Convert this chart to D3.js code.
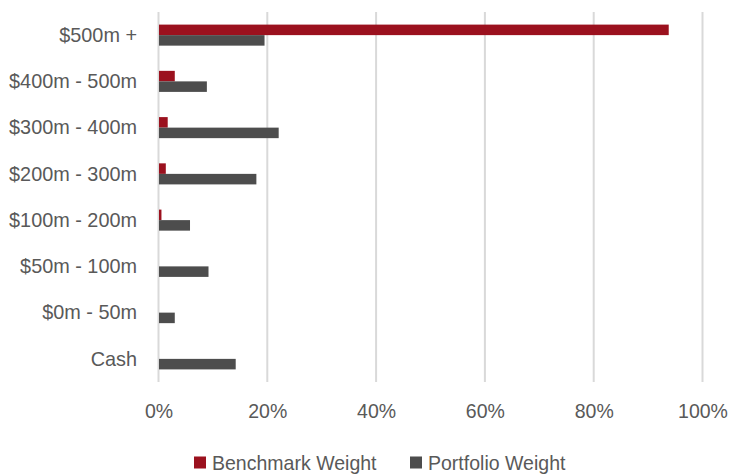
<!DOCTYPE html>
<html><head><meta charset="utf-8">
<script src="https://cdn.jsdelivr.net/npm/d3@7"></script>
<style>
body{margin:0;background:#fff;}
text{font-family:"Liberation Sans",Arial,sans-serif;fill:#595959;}
</style></head>
<body><svg id="c" width="729" height="474"></svg>
<script>
const categories = ["$500m +","$400m - 500m","$300m - 400m","$200m - 300m","$100m - 200m","$50m - 100m","$0m - 50m","Cash"];
const benchmarkWeight = [0.937,0.029,0.016,0.0125,0.0045,0,0,0];
const portfolioWeight = [0.194,0.088,0.220,0.179,0.057,0.091,0.029,0.141];
const seriesNames = ["Benchmark Weight","Portfolio Weight"];
const colors = ["#9B111E","#4D4D4D"];
const ticks = [0,0.2,0.4,0.6,0.8,1.0];
const FONT = "'Liberation Sans',Arial,sans-serif";
const FS = 21, SX = 0.945, SXL = 0.93;

const svg = d3.select("#c");
const x = d3.scaleLinear().domain([0,1]).range([158.5,702.5]);
const y = d3.scaleBand().domain(categories).range([12,382]).paddingInner(0.545).paddingOuter(0.2725);
const inner = d3.scaleBand().domain([0,1]).range([0,y.bandwidth()]);

// gridlines
svg.append("g").selectAll("line").data(ticks).join("line")
  .attr("x1",d=>x(d)).attr("x2",d=>x(d)).attr("y1",12).attr("y2",382)
  .attr("stroke","#D9D9D9").attr("stroke-width",2);

// tick labels via axis
const ax = svg.append("g").attr("transform","translate(0,382)")
  .call(d3.axisBottom(x).tickValues(ticks).tickFormat(d3.format(".0%")).tickSize(0).tickPadding(21));
ax.select(".domain").remove();
ax.selectAll("text").attr("font-size",FS).style("font-family",FONT).attr("fill","#595959")
  .attr("transform",`scale(${SXL},1)`);

// category labels
const ay = svg.append("g").attr("transform","translate(137,0)")
  .call(d3.axisLeft(y).tickSize(0).tickPadding(0));
ay.select(".domain").remove();
ay.selectAll("text").attr("font-size",FS).style("font-family",FONT).attr("fill","#595959")
  .attr("transform",`scale(${SX},1)`);

const series = [benchmarkWeight, portfolioWeight];
series.forEach((vals,si)=>{
  svg.append("g").selectAll("rect").data(vals).join("rect")
    .attr("x",x(0)+0.5)
    .attr("y",(d,i)=>y(categories[i])+inner(si))
    .attr("width",d=>Math.max(0,x(d)-x(0)))
    .attr("height",inner.bandwidth())
    .attr("fill",colors[si]);
});

// legend
const lg = svg.append("g");
const lx = [194,410];
seriesNames.forEach((n,i)=>{
  lg.append("rect").attr("x",lx[i]).attr("y",456.5).attr("width",12).attr("height",12).attr("fill",colors[i]);
  lg.append("g").attr("transform",`translate(${lx[i]+18},469.5) scale(${SXL},1)`)
    .append("text").attr("font-size",FS).text(n);
});
</script></body></html>
